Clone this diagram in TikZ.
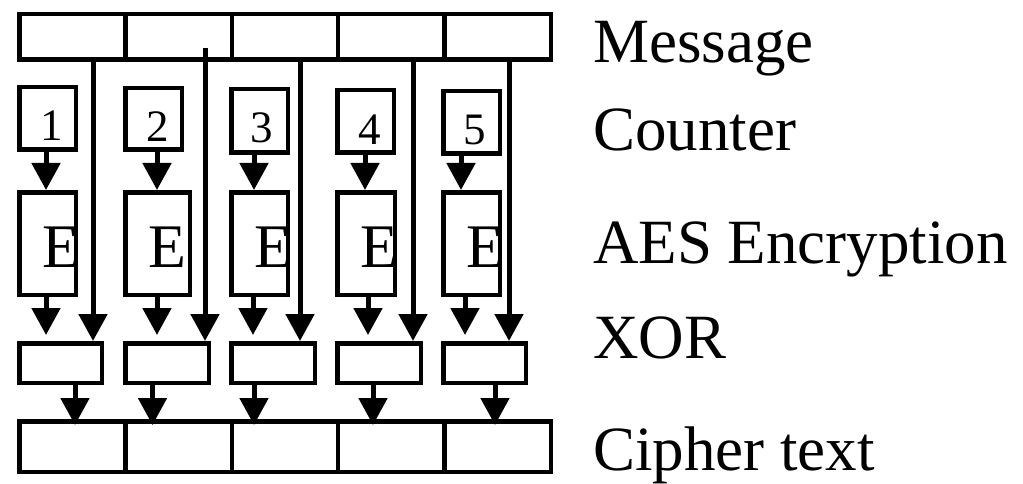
\documentclass[tikz,border=0pt]{standalone}
\usepackage{fontspec}
\setmainfont{Liberation Serif}
\usetikzlibrary{arrows.meta,calc}
\begin{document}
\begin{tikzpicture}[x=1pt,y=-1pt,
 bx/.style={draw,line width=4.5pt,inner sep=0pt},
 arr/.style={line width=5pt,-{Triangle[width=28pt,length=27pt]}},
 lab/.style={anchor=base west,inner sep=0pt,font=\fontsize{63}{65}\selectfont},
 num/.style={anchor=base,inner sep=0pt,font=\fontsize{45}{47}\selectfont},
 enc/.style={anchor=base west,inner sep=0pt,font=\fontsize{62}{64}\selectfont}]
\useasboundingbox (0,0) rectangle (1023,484);
% message row and cipher row
\foreach \i/\x in {1/72.4,2/178.7,3/285.0,4/391.3,5/497.6}{
  \node[bx,minimum width=106.3pt,minimum height=45.5pt] (m\i) at (\x,37) {};
  \node[bx,minimum width=106.3pt,minimum height=50.5pt] (k\i) at (\x,446.5) {};
}
% counter boxes
\node[bx,minimum width=56.5pt,minimum height=62.5pt] (c1) at (47.5,118.5) {};
\node[bx,minimum width=56.5pt,minimum height=61.5pt] (c2) at (153.5,119) {};
\node[bx,minimum width=56.5pt,minimum height=63.5pt] (c3) at (259.5,121) {};
\node[bx,minimum width=56.5pt,minimum height=62.5pt] (c4) at (365.5,121.5) {};
\node[bx,minimum width=56.5pt,minimum height=62.5pt] (c5) at (471.5,122.5) {};
\node[num] (n1) at (52,141) {1};
\node[num] (n2) at (158,142) {2};
\node[num] (n3) at (262,143) {3};
\node[num] (n4) at (370,145) {4};
\node[num] (n5) at (475,145) {5};
% encryption boxes
\node[bx,minimum width=56.5pt,minimum height=102.5pt] (e1) at (47.5,243.5) {};
\node[bx,minimum width=64.5pt,minimum height=102.5pt] (e2) at (157.5,243.5) {};
\node[bx,minimum width=56.5pt,minimum height=102.5pt] (e3) at (259.5,243.5) {};
\node[bx,minimum width=57.5pt,minimum height=102.5pt] (e4) at (366,243.5) {};
\node[bx,minimum width=56.5pt,minimum height=102.5pt] (e5) at (471.5,243.5) {};
\node[enc] (E1) at (42,267) {E};
\node[enc] (E2) at (148,267) {E};
\node[enc] (E3) at (254,267) {E};
\node[enc] (E4) at (360,267) {E};
\node[enc] (E5) at (466,267) {E};
% xor boxes
\node[bx,minimum width=82.5pt,minimum height=39.5pt] (x1) at (60.5,363) {};
\node[bx,minimum width=83.5pt,minimum height=39.5pt] (x2) at (167,363) {};
\node[bx,minimum width=83.5pt,minimum height=39.5pt] (x3) at (273,363) {};
\node[bx,minimum width=83.5pt,minimum height=39.5pt] (x4) at (379,363) {};
\node[bx,minimum width=82.5pt,minimum height=39.5pt] (x5) at (484.5,363) {};
% labels
\node[lab] (lm) at (593,63) {Message};
\node[lab] (lc) at (593,150) {Counter};
\node[lab] (la) at (593,263) {AES Encryption};
\node[lab] (lx) at (593,358) {XOR};
\node[lab] (lk) at (593,470) {Cipher text};
% start coordinates
\coordinate (ms1) at ([xshift=20.6pt]m1.south);
\coordinate (ms2) at ([xshift=26.3pt,yshift=14pt]m2.south);
\coordinate (ms3) at ([xshift=15pt]m3.south);
\coordinate (ms4) at ([xshift=21.7pt]m4.south);
\coordinate (ms5) at ([xshift=11.4pt]m5.south);
\coordinate (cs1) at ([xshift=-1.5pt]c1.south);
\coordinate (cs2) at ([xshift=3.5pt]c2.south);
\coordinate (cs3) at ([xshift=-5.5pt]c3.south);
\coordinate (cs4) at ([xshift=-0.5pt]c4.south);
\coordinate (cs5) at ([xshift=-10.5pt]c5.south);
\coordinate (es1) at ([xshift=-1.5pt]e1.south);
\coordinate (es2) at ([xshift=-0.5pt]e2.south);
\coordinate (es3) at ([xshift=-6.5pt]e3.south);
\coordinate (es4) at ([xshift=2pt]e4.south);
\coordinate (es5) at ([xshift=-6.5pt]e5.south);
\coordinate (xs1) at ([xshift=14.5pt]x1.south);
\coordinate (xs2) at ([xshift=-14.5pt]x2.south);
\coordinate (xs3) at ([xshift=-19pt]x3.south);
\coordinate (xs4) at ([xshift=-6pt]x4.south);
\coordinate (xs5) at ([xshift=10.5pt]x5.south);
\foreach \i in {1,...,5}{
  \draw[arr] (ms\i) -- (ms\i |- x\i.north);
  \draw[arr] (cs\i) -- (cs\i |- e\i.north);
  \draw[arr] (es\i) -- ($(es\i |- x\i.north)+(0,-6)$);
  \draw[arr] (xs\i) -- ($(xs\i |- k\i.north)+(0,6)$);
}
\end{tikzpicture}
\end{document}
